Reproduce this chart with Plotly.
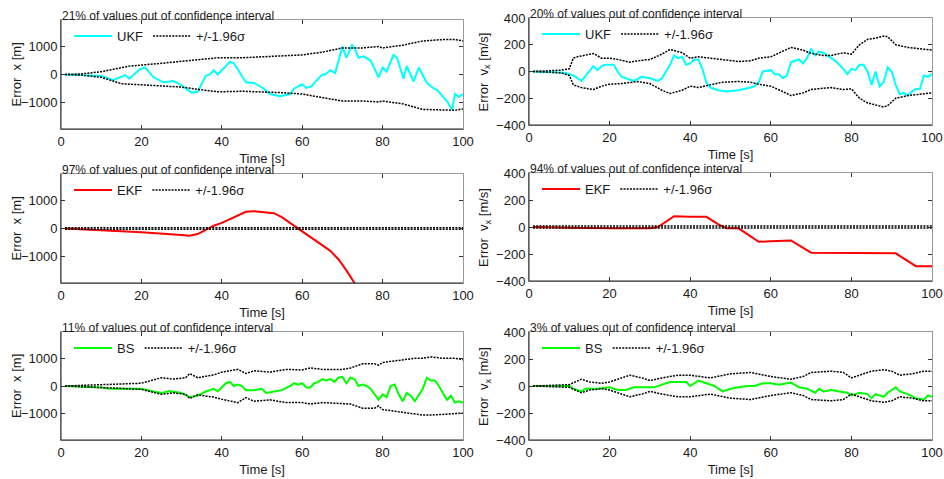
import plotly.graph_objects as go

# ---------------- data ----------------
# Panel 1: UKF, position error x [m]
ukf_x_t = [1, 5, 10, 13, 16, 17, 19.7, 21, 23, 25.5, 28, 29.6, 32.5, 34, 36, 37, 38, 39, 40.4, 42, 43, 46, 48, 50.4, 52, 54.5, 57, 58, 60, 61, 62.4, 63, 65, 65.7, 67, 68.2, 70, 71, 72.4, 73, 74, 75.3, 77, 79, 80, 81, 82.7, 83.6, 85.2, 86, 87.7, 89, 91, 92.7, 93.5, 96, 97.3, 98, 99, 100]
ukf_x_v = [0, -20, -50, -200, -20, -150, 200, 250, -100, -280, -230, -350, -650, -620, -50, 0, 150, 0, 200, 450, 400, -280, -300, -500, -700, -780, -700, -500, -350, -480, -420, -300, 0, 0, 150, 50, 1000, 600, 1050, 950, 600, 650, 500, -100, 250, 100, 700, 600, -150, 300, -250, 250, -300, -500, -550, -950, -1250, -700, -800, -700]
ukf_x_sig_t = [1, 5, 10, 17, 25, 33, 39, 45, 55, 60, 65, 70, 75, 79, 80, 85, 90, 95, 98, 100]
ukf_x_sig_up = [0, 20, 100, 300, 400, 500, 600, 600, 650, 700, 800, 950, 950, 1000, 950, 1050, 1200, 1250, 1250, 1200]
ukf_x_sig_lo_t = [1, 5, 10, 13, 15, 20, 25, 30, 35, 39, 45, 50, 55, 60, 65, 70, 75, 79, 80, 85, 90, 95, 98, 100]
ukf_x_sig_lo = [0, -20, -100, -250, -330, -370, -400, -450, -550, -620, -600, -620, -650, -700, -820, -950, -950, -980, -950, -1050, -1250, -1280, -1280, -1230]

# Panel 2: UKF, velocity error vx [m/s]
ukf_v_t = [1, 9, 10, 11, 13, 15, 16, 17, 18, 19, 21, 22, 23, 25, 26, 28, 30, 32, 33, 35, 36, 37, 38, 39, 40, 41, 42, 43, 44, 45, 47, 49, 52, 55, 56, 57, 58, 60, 61, 62, 63, 64, 65, 66, 67, 68, 69, 70, 71, 72, 73, 74, 75, 76, 77, 78, 79, 80, 81, 82, 83, 84, 85, 86, 87, 88, 89, 90, 91, 92, 93, 94, 95, 96, 97, 98, 99, 100]
ukf_v_v = [0, -10, -20, -30, -70, 0, 40, 10, 40, 50, 50, 0, -40, -60, -70, -40, -50, -70, -50, 50, 120, 100, 110, 50, 60, 90, 90, 20, -80, -120, -140, -150, -140, -120, -110, -80, 0, 10, -20, -20, -50, -30, 70, 80, 90, 60, 100, 170, 120, 150, 140, 120, 100, 80, 50, 20, -20, 20, 10, 50, 50, 0, -100, 0, -110, -80, 30, 0, -100, -170, -160, -180, -150, -130, -130, -30, -40, -20]
ukf_v_sig_t = [1, 8, 10, 11, 12, 15, 16, 18, 20, 22, 25, 27, 30, 33, 35, 38, 40, 42, 45, 48, 52, 55, 57, 60, 63, 65, 68, 70, 73, 75, 78, 80, 82, 84, 86, 88, 89, 91, 94, 97, 100]
ukf_v_sig_up = [0, 10, 20, 100, 110, 130, 135, 100, 100, 90, 70, 80, 90, 130, 165, 140, 100, 110, 100, 85, 75, 80, 100, 110, 150, 180, 160, 135, 120, 120, 140, 130, 200, 240, 250, 265, 260, 200, 180, 170, 160]
ukf_v_sig_lo_t = [1, 8, 10, 11, 13, 16, 18, 20, 23, 27, 30, 33, 35, 38, 40, 42, 45, 48, 52, 55, 57, 60, 63, 65, 68, 70, 73, 75, 78, 80, 82, 84, 86, 88, 89, 91, 94, 97, 100]
ukf_v_sig_lo = [0, -10, -30, -100, -120, -135, -110, -95, -90, -75, -90, -140, -165, -140, -110, -120, -100, -80, -75, -80, -95, -110, -150, -180, -160, -135, -125, -120, -135, -130, -200, -235, -250, -265, -255, -200, -180, -170, -160]

# Panel 3: EKF, position error x [m]
ekf_x_t = [1, 10, 20, 30, 32, 34, 36, 38, 40, 43, 46, 48, 50, 53, 55, 57, 59, 61, 63, 65, 67, 69, 71, 73, 75]
ekf_x_v = [0, -50, -130, -230, -260, -200, -50, 100, 200, 400, 600, 620, 600, 550, 400, 200, 0, -180, -380, -600, -800, -1100, -1500, -1950, -2400]
ekf_x_sig_t = [1, 100]
ekf_x_sig_up = [30, 30]
ekf_x_sig_lo = [-30, -30]

# Panel 4: EKF, velocity error vx [m/s]
ekf_v_t = [1, 8, 10, 20, 30, 32, 35, 36, 40, 44, 47, 49, 52, 55, 57, 60, 65, 70, 80, 91, 96, 100]
ekf_v_v = [0, 0, -5, -10, -10, 0, 60, 80, 75, 75, 20, -10, -10, -70, -110, -105, -100, -190, -190, -195, -290, -290]
ekf_v_sig_t = [1, 100]
ekf_v_sig_up = [8, 8]
ekf_v_sig_lo = [-8, -8]

# Panel 5: BS, position error x [m]
bs_x_t = [1, 10, 12, 20, 23, 25, 27, 30, 32, 34, 36, 38, 39, 41, 42, 43, 44, 45, 46, 48, 50, 51, 53, 55, 57, 58, 59, 60, 61, 62, 63, 64, 65, 66, 67, 68, 69, 70, 71, 72, 73, 74, 75, 76, 77, 78, 79, 80, 81, 82, 83, 84, 85, 86, 87, 88, 89, 90, 91, 92, 93, 94, 95, 96, 97, 98, 99, 100]
bs_x_v = [0, -50, -100, -100, -200, -250, -180, -250, -400, -350, -200, -100, -200, 100, 150, 0, 50, 0, -150, -150, -100, -250, -200, -150, 0, 100, 50, 100, -50, -50, 100, 150, 250, 200, 250, 150, 300, 330, 100, 300, 250, 0, 50, 0, -100, -300, -500, -300, -400, 0, 50, -300, -550, -250, -350, -550, -300, -100, 300, 200, 200, 0, -250, -500, -350, -600, -550, -600]
bs_x_sig_t = [1, 10, 20, 25, 28, 31, 32, 34, 38, 40, 44, 46, 48, 52, 56, 60, 62, 65, 70, 72, 75, 78, 79, 80, 85, 88, 90, 92, 95, 98, 100]
bs_x_sig_up = [0, 50, 100, 300, 250, 300, 450, 300, 400, 500, 600, 450, 550, 500, 600, 580, 650, 600, 600, 650, 800, 800, 750, 850, 950, 1000, 1000, 1050, 1000, 1000, 950]
bs_x_sig_lo = [0, -50, -120, -300, -250, -300, -450, -320, -400, -480, -600, -420, -550, -500, -600, -600, -650, -600, -620, -650, -800, -800, -720, -850, -950, -1000, -1050, -1050, -1020, -1000, -980]

# Panel 6: BS, velocity error vx [m/s]
bs_v_t = [1, 10, 11, 13, 14, 17, 20, 22, 24, 26, 28, 31, 33, 35, 37, 39, 40, 42, 44, 46, 48, 50, 52, 54, 56, 58, 60, 62, 64, 65, 67, 69, 71, 72, 73, 75, 77, 79, 80, 82, 84, 85, 86, 88, 89, 91, 92, 94, 96, 98, 99, 100]
bs_v_v = [0, 0, -20, -40, -20, -20, -10, -30, -30, -10, -10, -10, 10, 30, 30, 30, 0, 40, 20, 0, -40, -20, -10, 0, 0, 20, 20, 10, 20, 25, -10, -20, -50, -20, -40, -30, -40, -50, -70, -50, -60, -90, -60, -80, -50, -10, -40, -60, -90, -100, -70, -80]
bs_v_sig_t = [1, 10, 13, 15, 18, 20, 25, 28, 30, 33, 37, 40, 45, 48, 50, 55, 60, 65, 68, 70, 75, 78, 80, 82, 85, 88, 90, 92, 95, 98, 100]
bs_v_sig_up = [0, 10, 50, 30, 20, 30, 80, 60, 40, 60, 80, 80, 60, 80, 90, 100, 70, 50, 70, 100, 110, 100, 60, 80, 110, 120, 110, 80, 90, 110, 110]
bs_v_sig_lo = [0, -10, -50, -30, -20, -30, -80, -60, -40, -60, -80, -80, -60, -80, -90, -100, -70, -50, -70, -100, -110, -100, -60, -80, -110, -120, -110, -80, -90, -110, -110]

titles = ["21% of values out of confidence interval", "20% of values out of confidence interval",
          "97% of values out of confidence interval", "94% of values out of confidence interval",
          "11% of values out of confidence interval", "3% of values out of confidence interval"]
x_ticks = [0, 20, 40, 60, 80, 100]
pos_ticks = [-1000, 0, 1000]
vel_ticks = [-400, -200, 0, 200, 400]

# ---------------- layout geometry ----------------
W, H = 944, 479
FONT = "Liberation Sans, Arial, sans-serif"
TXT = "#1a1a1a"

def px_x(a, b):
    return [a / W, b / W]

def px_y(top, bot):
    return [1 - bot / H, 1 - top / H]

xdom = [px_x(61, 463), px_x(529, 932)]
ydom = [px_y(20, 129), px_y(18, 125),
        px_y(174, 283), px_y(173, 281),
        px_y(332, 440), px_y(332, 440)]

panels = [
    ("UKF", "#00FFFF", ukf_x_t, ukf_x_v, ukf_x_sig_t, ukf_x_sig_up, ukf_x_sig_lo_t, ukf_x_sig_lo, "pos"),
    ("UKF", "#00FFFF", ukf_v_t, ukf_v_v, ukf_v_sig_t, ukf_v_sig_up, ukf_v_sig_lo_t, ukf_v_sig_lo, "vel"),
    ("EKF", "#FF0000", ekf_x_t, ekf_x_v, ekf_x_sig_t, ekf_x_sig_up, ekf_x_sig_t, ekf_x_sig_lo, "pos"),
    ("EKF", "#FF0000", ekf_v_t, ekf_v_v, ekf_v_sig_t, ekf_v_sig_up, ekf_v_sig_t, ekf_v_sig_lo, "vel"),
    ("BS", "#00FF00", bs_x_t, bs_x_v, bs_x_sig_t, bs_x_sig_up, bs_x_sig_t, bs_x_sig_lo, "pos"),
    ("BS", "#00FF00", bs_v_t, bs_v_v, bs_v_sig_t, bs_v_sig_up, bs_v_sig_t, bs_v_sig_lo, "vel"),
]

SIG_LINE = dict(color="black", width=1.5, dash="2px,1.2px")

fig = go.Figure()
layout = dict(width=W, height=H, margin=dict(l=0, r=0, t=0, b=0, autoexpand=False),
              template="none",
              paper_bgcolor="white", plot_bgcolor="white",
              font=dict(family=FONT, size=12, color=TXT),
              annotations=[], shapes=[])

for i, (name, col, t, v, st, su, slt, sl, kind) in enumerate(panels):
    n = i + 1
    xa = "x" if n == 1 else f"x{n}"
    ya = "y" if n == 1 else f"y{n}"
    lg = "legend" if n == 1 else f"legend{n}"
    fig.add_trace(go.Scatter(x=t, y=v, mode="lines", name=name, xaxis=xa, yaxis=ya,
                             line=dict(color=col, width=2), legend=lg))
    fig.add_trace(go.Scatter(x=st, y=su, mode="lines", name="+/-1.96σ", xaxis=xa, yaxis=ya,
                             line=SIG_LINE, legend=lg))
    fig.add_trace(go.Scatter(x=slt, y=sl, mode="lines", name="+/-1.96σ", xaxis=xa, yaxis=ya,
                             line=SIG_LINE, legend=lg, showlegend=False))
    col_i = i % 2
    xd = xdom[col_i]
    yd = ydom[i]
    if kind == "pos":
        yr = [-1950, 1950]
        yt = pos_ticks
        ytitle = "Error  x [m]"
    else:
        yr = [-400, 400]
        yt = vel_ticks
        ytitle = "Error  v<sub>x</sub> [m/s]"
    axis_common = dict(showline=True, linecolor="#9a9a9a", linewidth=1, mirror="ticks",
                       ticks="inside", ticklen=4, tickcolor="#333", showgrid=False,
                       zeroline=False, automargin=False,
                       tickfont=dict(size=13, family=FONT, color=TXT))
    layout["xaxis" if n == 1 else f"xaxis{n}"] = dict(
        domain=xd, anchor=ya, range=[0, 100], tickvals=x_ticks,
        title=dict(text="Time [s]", font=dict(size=13), standoff=6), **axis_common)
    layout["yaxis" if n == 1 else f"yaxis{n}"] = dict(
        domain=yd, anchor=xa, range=yr, tickvals=yt, **axis_common)
    layout[lg] = dict(x=xd[0] + 8 / W, y=yd[1] - 1 / H, xanchor="left", yanchor="top",
                      orientation="h", bgcolor="rgba(0,0,0,0)", borderwidth=0,
                      font=dict(size=13, family=FONT, color=TXT), itemwidth=38,
                      tracegroupgap=0, itemclick=False)
    layout["annotations"].append(dict(text=titles[i], x=xd[0], y=yd[1], xref="paper", yref="paper",
                                      xanchor="left", yanchor="bottom", showarrow=False,
                                      font=dict(size=12, family=FONT, color=TXT), borderpad=0, yshift=-4))
    # y-axis title as rotated annotation
    layout["annotations"].append(dict(text=ytitle, x=xd[0] - 45 / W, y=(yd[0] + yd[1]) / 2,
                                      xref="paper", yref="paper", xanchor="center", yanchor="middle",
                                      textangle=-90, showarrow=False,
                                      font=dict(size=13, family=FONT, color=TXT)))
    # dark left and bottom axis lines (box edges on top/right stay grey)
    layout["shapes"].append(dict(type="line", xref="paper", yref="paper", x0=xd[0], x1=xd[0],
                                 y0=yd[0], y1=yd[1], line=dict(color="#222", width=1)))
    layout["shapes"].append(dict(type="line", xref="paper", yref="paper", x0=xd[0], x1=xd[1],
                                 y0=yd[0], y1=yd[0], line=dict(color="#222", width=1)))

fig.update_layout(**layout)
fig.write_html("out.html", config={"displayModeBar": False},
               post_script="document.body.style.margin='0';document.body.style.overflow='hidden';")
